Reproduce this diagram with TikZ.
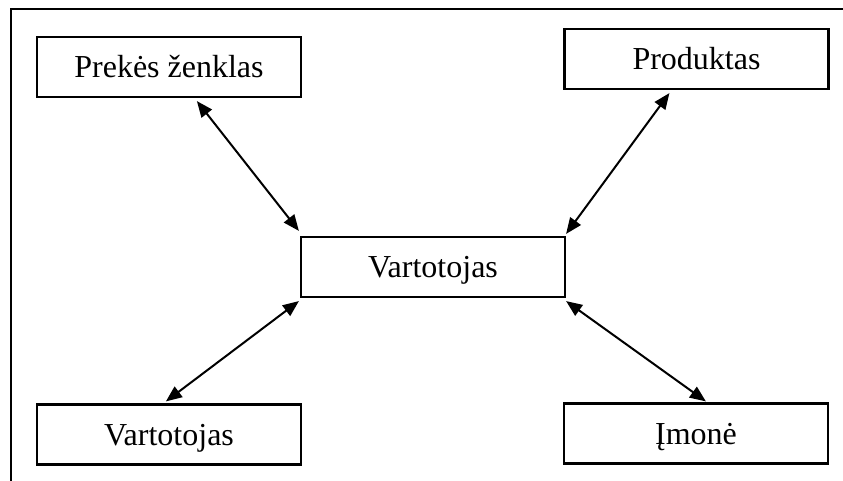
\documentclass[tikz,border=0pt]{standalone}
\usepackage{fontspec}
\setmainfont{Liberation Serif}
\usetikzlibrary{arrows.meta}
\begin{document}
\begin{tikzpicture}[x=1pt,y=-1pt,
  box/.style={draw, line width=2.2pt, minimum width=264pt, minimum height=60pt,
    inner sep=0pt, text height=21pt, text depth=0pt,
    font=\fontsize{32}{38}\selectfont},
  link/.style={line width=2pt, {Triangle[length=16pt,width=13pt]}-{Triangle[length=16pt,width=13pt]}}]
  \useasboundingbox (0,0) rectangle (843,481);
  % open frame: top and left edges only
  \draw[line width=2.2pt] (843,9) -- (11,9) -- (11,481);

  \node[box] (pz) at (169,67) {Prekės ženklas};
  \node[box] (pr) at (696.5,59) {Produktas};
  \node[box] (c)  at (433,267) {Vartotojas};
  \node[box] (v2) at (169,434.5) {Vartotojas};
  \node[box] (im) at (696,433.5) {Įmonė};

  \draw[link] ([xshift=161pt,yshift=-3pt]pz.south west) -- ([xshift=-1pt,yshift=5pt]c.north west);
  \draw[link] ([xshift=106pt,yshift=-3pt]pr.south west) -- ([yshift=2pt]c.north east);
  \draw[link] ([xshift=-1pt,yshift=-3pt]c.south west) -- ([xshift=130pt,yshift=2pt]v2.north west);
  \draw[link] ([yshift=-3pt]c.south east) -- ([xshift=143pt,yshift=1pt]im.north west);
\end{tikzpicture}
\end{document}
